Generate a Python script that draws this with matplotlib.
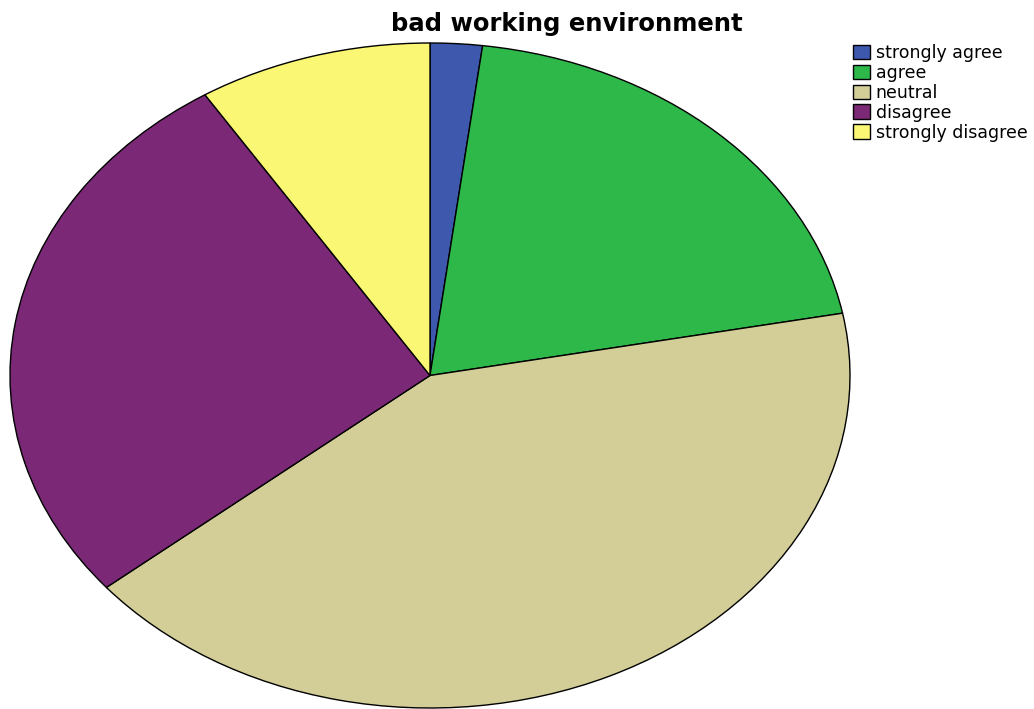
import matplotlib
matplotlib.use("Agg")
import matplotlib.pyplot as plt

labels = ["strongly agree", "agree", "neutral", "disagree", "strongly disagree"]
percents = [2, 20, 42, 27, 9]
colors = ["#3D58AC", "#2EB84A", "#D3CE98", "#7B2877", "#FAF775"]

plt.rcParams["font.family"] = ["DejaVu Sans"]

W, H = 1034, 709
fig = plt.figure(figsize=(W / 100, H / 100), dpi=100)

# the pie is stretched into an ellipse, so place the axes in pixel terms
left, right, top, bottom = 10, 850, 43, 708
ax = fig.add_axes([left / W, (H - bottom) / H, (right - left) / W, (bottom - top) / H])
wedges, _ = ax.pie(percents, colors=colors, startangle=90, counterclock=False,
                   wedgeprops=dict(edgecolor="black", linewidth=1.0))
ax.set_aspect("auto")
ax.set_xlim(-1, 1)
ax.set_ylim(-1, 1)
for w in wedges:
    w.set_clip_on(False)

fig.text(567 / W, 1 - 31 / H, "bad working environment", ha="center", va="baseline",
         fontsize=17.5, fontweight="bold")

leg = fig.legend(wedges, labels, loc="upper left", bbox_to_anchor=(853 / W, 1 - 44 / H),
                 frameon=False, fontsize=12.5, handlelength=0.98, handleheight=0.92,
                 handletextpad=0.33, labelspacing=0.11, borderpad=0, borderaxespad=0)

fig.savefig("out.png", dpi=100)
